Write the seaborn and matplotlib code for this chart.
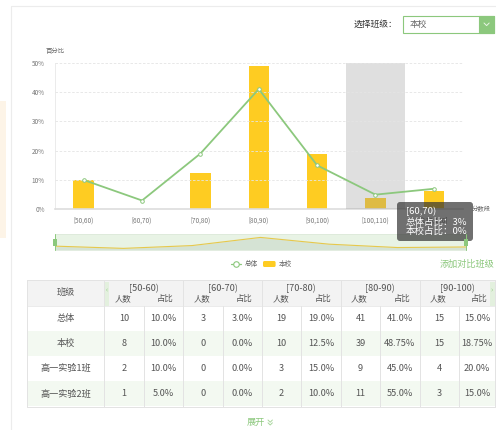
import numpy as np
import pandas as pd
import matplotlib
matplotlib.use("Agg")
import matplotlib.pyplot as plt
from matplotlib.patches import Rectangle, FancyBboxPatch
import seaborn as sns

# ---- chart data -------------------------------------------------------
categories = ["[50,60)", "[60,70)", "[70,80)", "[80,90)", "[90,100)", "[100,110)", "[110,120]"]
total_pct = [10, 3, 19, 41, 15, 5, 7]                 # 总体 (%)
school_pct = [10, 0, 12.5, 48.75, 18.75, 3.75, 6.25]  # 本校 (%)
y_ticks = [0, 10, 20, 30, 40, 50]
highlight_band = "[100,110)"

tooltip_title = "[60,70)"
tooltip_lines = ["总体占比：3%", "本校占比：0%"]

# ---- table data -------------------------------------------------------
table_groups = ["[50-60)", "[60-70)", "[70-80)", "[80-90)", "[90-100)"]
table_rows = ["总体", "本校", "高一实验1班", "高一实验2班"]
counts_total = [10, 3, 19, 41, 15]
counts_school = [8, 0, 10, 39, 15]
counts_class1 = [2, 0, 3, 9, 4]
counts_class2 = [1, 0, 2, 11, 3]
share_total = ["10.0%", "3.0%", "19.0%", "41.0%", "15.0%"]
share_school = ["10.0%", "0.0%", "12.5%", "48.75%", "18.75%"]
share_class1 = ["10.0%", "0.0%", "15.0%", "45.0%", "20.0%"]
share_class2 = ["5.0%", "0.0%", "10.0%", "55.0%", "15.0%"]

GREEN = "#8cc87d"
YELLOW = "#fecc22"
TXT = "#555555"

sns.set_theme(style="white")
plt.rcParams["font.family"] = ["Noto Sans CJK SC", "DejaVu Sans"]

W, H = 496, 430
fig = plt.figure(figsize=(W / 100, H / 100), dpi=100)
fig.patch.set_facecolor("white")


def frac(x0, y0, x1, y1):
    """pixel box (top-left origin) -> figure fraction rect"""
    return [x0 / W, 1 - y1 / H, (x1 - x0) / W, (y1 - y0) / H]


# ---- main chart -------------------------------------------------------
df = pd.DataFrame({"band": categories, "total": total_pct, "school": school_pct})
ax = fig.add_axes(frac(54.5, 62.7, 463, 209.3))
ax.set_facecolor("none")

for v in y_ticks[1:]:
    ax.axhline(v, color="#e4e4e4", lw=0.6, ls=(0, (3, 2)), zorder=0)

sns.barplot(data=df, x="band", y="school", ax=ax, color=YELLOW, width=0.35,
            saturation=1, linewidth=0, zorder=2)
hi = categories.index(highlight_band)
ax.axvspan(hi - 0.5, hi + 0.5, color=(150 / 255, 150 / 255, 150 / 255),
           alpha=0.3, lw=0, zorder=3)
sns.pointplot(data=df, x="band", y="total", ax=ax, color=GREEN, markers="o",
              errorbar=None, linewidth=1.3, markersize=2.6, zorder=4)
for ln in ax.lines:
    ln.set_markerfacecolor("white")
    ln.set_markeredgecolor(GREEN)
    ln.set_markeredgewidth(0.7)
    ln.set_zorder(4)

ax.set_xlim(-0.5, len(categories) - 0.5)
ax.set_ylim(0, 50)
ax.set_yticks(y_ticks)
ax.set_yticklabels([f"{v}%" for v in y_ticks])
ax.set_xlabel("")
ax.set_ylabel("")
ax.tick_params(axis="y", length=0, labelsize=4.6, colors="#777777", pad=7)
ax.tick_params(axis="x", length=0, labelsize=4.6, colors="#777777", pad=5)
for s in ["top", "right"]:
    ax.spines[s].set_visible(False)
ax.spines["bottom"].set_color("#dddddd")
ax.spines["bottom"].set_linewidth(1.2)
ax.spines["left"].set_color("#e8e8e8")
ax.spines["left"].set_linewidth(0.6)

# ---- data-zoom slider -------------------------------------------------
sl = fig.add_axes(frac(55, 234, 466, 249.5))
sl.set_facecolor("#e8f3e5")
xs = np.arange(len(school_pct))
sl.fill_between(xs, school_pct, -5, color="#d5e3d4", lw=0)
sns.lineplot(x=xs, y=school_pct, ax=sl, color="#e6c84c", lw=0.8)
sl.set_xlim(0, len(school_pct) - 1)
sl.set_ylim(-5, 64)
sl.set_xticks([])
sl.set_yticks([])
sl.set_xlabel("")
sl.set_ylabel("")
for s in sl.spines.values():
    s.set_color("#dde9da")
    s.set_linewidth(0.6)

# ---- page furniture (pixel overlay) ----------------------------------
ov = fig.add_axes([0, 0, 1, 1])
ov.set_xlim(0, W)
ov.set_ylim(H, 0)
ov.axis("off")

# card border + side panel
ov.plot([11, W], [6, 6], color="#ececec", lw=0.8)
ov.plot([11, 11], [6, H], color="#ececec", lw=0.8)
ov.add_patch(Rectangle((0, 101), 5.7, 137, fc="#fdf4e7", ec="none"))

# class selector
ov.text(397, 24, "选择班级：", ha="right", va="center", fontsize=6.3, color="#333333")
ov.add_patch(Rectangle((403, 16), 91.3, 16.7, fc="white", ec=GREEN, lw=0.8))
ov.add_patch(Rectangle((479, 16), 15.3, 16.7, fc=GREEN, ec=GREEN, lw=0.8))
ov.plot([484, 486.6, 489.2], [23, 25.6, 23], color="#e9f5e5", lw=0.7)
ov.text(410, 24.5, "本校", ha="left", va="center", fontsize=6.3, color="#666666")

# axis titles
ov.text(45.5, 51, "百分比", ha="left", va="center", fontsize=4.6, color="#666666")
ov.text(472, 209.5, "分数段", ha="left", va="center", fontsize=4.6, color="#666666")

# legend
ov.plot([231, 241], [264, 264], color=GREEN, lw=0.9)
ov.plot([236], [264], marker="o", ms=4, mfc="white", mec=GREEN, mew=0.8)
ov.text(245, 264, "总体", ha="left", va="center", fontsize=4.8, color="#666666")
ov.add_patch(FancyBboxPatch((263, 261), 12.6, 6, boxstyle="round,pad=0,rounding_size=1.5",
                            fc=YELLOW, ec="none"))
ov.text(279, 264, "本校", ha="left", va="center", fontsize=4.8, color="#666666")
ov.text(494, 264.5, "添加对比班级", ha="right", va="center", fontsize=6.6, color=GREEN)

# tooltip
ov.add_patch(FancyBboxPatch((399, 204), 72, 35, boxstyle="round,pad=2,rounding_size=3",
                            fc=(0.2, 0.2, 0.2, 0.7), ec="none"))
ov.text(406, 211.5, tooltip_title, ha="left", va="center", fontsize=6.8, color="white")
for i, t in enumerate(tooltip_lines):
    ov.text(406, 222 + i * 9.5, t, ha="left", va="center", fontsize=6.8, color="white")

# slider handles
for hx in (55, 466):
    ov.plot([hx, hx], [234, 250], color=GREEN, lw=0.7)
    ov.add_patch(Rectangle((hx - 1.8, 238.5), 3.6, 7, fc=GREEN, ec="none"))

# ---- table ------------------------------------------------------------
tx0, tx1, tx_end = 27.3, 104.3, 495
sub_w = 39.4
h_top, h_bot = 280, 305.7
row_h = 25.2
row_bg = ["white", "#f3f9f1", "white", "#f3f9f1"]
counts = [counts_total, counts_school, counts_class1, counts_class2]
shares = [share_total, share_school, share_class1, share_class2]
LINE = "#e3e3e3"

t_bot = h_bot + row_h * len(table_rows)
ov.add_patch(Rectangle((tx0, h_top), tx_end - tx0, h_bot - h_top, fc="#f3f3f3", ec="none"))
for r in range(len(table_rows)):
    ov.add_patch(Rectangle((tx0, h_bot + r * row_h), tx_end - tx0, row_h, fc=row_bg[r], ec="none"))

# outer frame and header rule
ov.plot([tx0, tx_end], [h_top, h_top], color=LINE, lw=0.7)
ov.plot([tx0, tx_end], [t_bot, t_bot], color=LINE, lw=0.7)
ov.plot([tx0, tx_end], [h_bot, h_bot], color=LINE, lw=0.5)
ov.plot([tx0, tx0], [h_top, t_bot], color=LINE, lw=0.7)
ov.plot([tx1, tx1], [h_top, t_bot], color=LINE, lw=0.7)
ov.plot([tx_end, tx_end], [h_top, t_bot], color=LINE, lw=0.7)

ov.text((tx0 + tx1) / 2, (h_top + h_bot) / 2, "班级", ha="center", va="center",
        fontsize=6.6, color=TXT)
for g, label in enumerate(table_groups):
    gx = tx1 + g * 2 * sub_w
    gr = min(gx + 2 * sub_w, tx_end)
    if g > 0:
        ov.plot([gx, gx], [h_top, t_bot], color=LINE, lw=0.7)
    ov.plot([gx + sub_w, gx + sub_w], [h_bot, t_bot], color=LINE, lw=0.7)
    ov.text((gx + gr) / 2, 288.5, label, ha="center", va="center", fontsize=6.6, color=TXT)
    ov.text(gx + sub_w / 2 - 1, 298.5, "人数", ha="center", va="center", fontsize=6, color=TXT)
    ov.text((gx + sub_w + gr) / 2 + 2, 298.5, "占比", ha="center", va="center", fontsize=6, color=TXT)
    for r in range(len(table_rows)):
        cy = h_bot + (r + 0.5) * row_h
        ov.text(gx + sub_w / 2, cy, str(counts[r][g]), ha="center", va="center",
                fontsize=6.6, color=TXT)
        ov.text((gx + sub_w + gr) / 2, cy, shares[r][g], ha="center", va="center",
                fontsize=6.6, color=TXT)

for r, name in enumerate(table_rows):
    ov.text((tx0 + tx1) / 2, h_bot + (r + 0.5) * row_h, name, ha="center", va="center",
            fontsize=6.6, color=TXT)

# horizontal scroll tabs
ov.add_patch(Rectangle((tx1, 282), 5, 23.7, fc="#e3f0de", ec="none"))
ov.text(tx1 + 2.5, 290, "‹", ha="center", va="center", fontsize=5, color=GREEN)
ov.add_patch(Rectangle((489.5, 282), 5, 23.7, fc="#e3f0de", ec="none"))
ov.text(492, 290, "›", ha="center", va="center", fontsize=5, color=GREEN)

# expand link with a double chevron
ov.text(256, 422.5, "展开", ha="center", va="center", fontsize=6.6, color=GREEN)
for cy in (420, 422.8):
    ov.plot([268, 270.2, 272.4], [cy, cy + 2.2, cy], color="#a9d69d", lw=0.7)

fig.savefig("out.png", dpi=100)
